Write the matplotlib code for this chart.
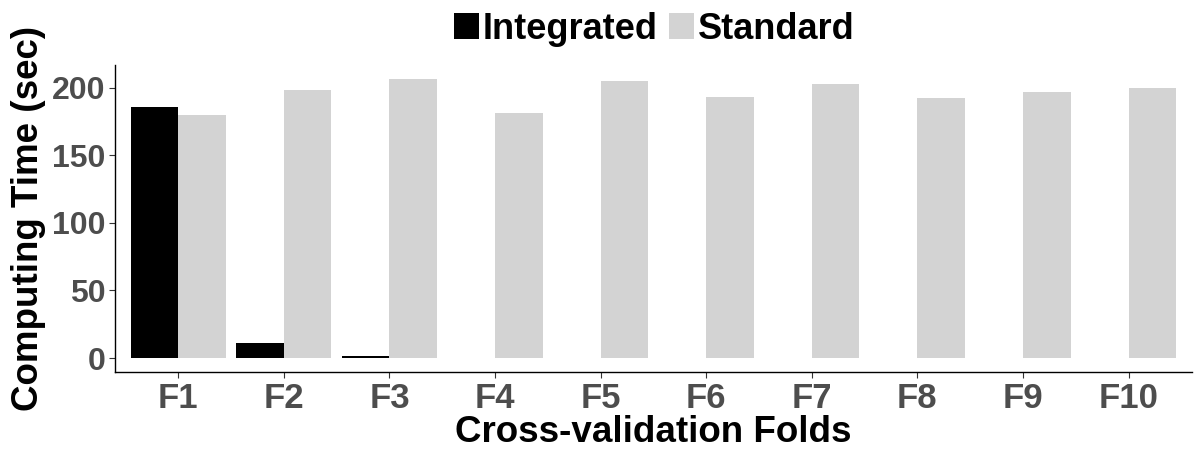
import numpy as np
import matplotlib
matplotlib.use('Agg')
import matplotlib.pyplot as plt
from matplotlib.patches import Patch

# data
folds       = ["F1", "F2", "F3", "F4", "F5", "F6", "F7", "F8", "F9", "F10"]
integrated  = [186, 11, 1.2, 0, 0, 0, 0, 0, 0, 0]
standard    = [180, 198, 206, 181, 205, 193, 203, 192, 197, 200]
y_ticks     = [0, 50, 100, 150, 200]

# colours
INT_COLOR  = "#000000"
STD_COLOR  = "#D3D3D3"
TICK_COLOR = "#4D4D4D"

plt.rcParams['font.family'] = ['Liberation Sans', 'DejaVu Sans']

fig = plt.figure(figsize=(12, 4.5), dpi=100, facecolor="white")
ax = fig.add_axes([0.0958, 0.1733, 0.8975, 0.6823])

x = np.arange(len(folds))
w = 0.45
ax.bar(x - w / 2, integrated, width=w, color=INT_COLOR, linewidth=0)
ax.bar(x + w / 2, standard, width=w, color=STD_COLOR, linewidth=0)

ax.set_xlim(-0.6, len(folds) - 0.4)
ax.set_ylim(-10.3, 216.7)
ax.set_xticks(x)
ax.set_xticklabels(folds)
ax.set_yticks(y_ticks)

for lab in ax.get_xticklabels():
    lab.set_fontsize(25)
    lab.set_fontweight('bold')
    lab.set_color(TICK_COLOR)
for lab in ax.get_yticklabels():
    lab.set_fontsize(23)
    lab.set_fontweight('bold')
    lab.set_color(TICK_COLOR)

ax.tick_params(axis='both', length=4, width=0.8, color="#333333", pad=3)
for side in ["top", "right"]:
    ax.spines[side].set_visible(False)
for side in ["left", "bottom"]:
    ax.spines[side].set_color("black")
    ax.spines[side].set_linewidth(1.0)

ax.set_xlabel("Cross-validation Folds", fontsize=26.5, fontweight='bold',
              color="black", labelpad=0)
ax.set_ylabel("Computing Time (sec)", fontsize=26.5, fontweight='bold',
              color="black", labelpad=4)

handles = [Patch(facecolor=INT_COLOR, edgecolor='none', label="Integrated"),
           Patch(facecolor=STD_COLOR, edgecolor='none', label="Standard")]
fig.legend(handles=handles, loc='center', bbox_to_anchor=(0.545, 0.935),
           ncol=2, frameon=False, fontsize=26, handlelength=0.7,
           handleheight=0.7, handletextpad=0.1, columnspacing=0.3,
           prop={'weight': 'bold', 'size': 26})

fig.savefig("out.png", dpi=100, facecolor="white")
plt.close(fig)
